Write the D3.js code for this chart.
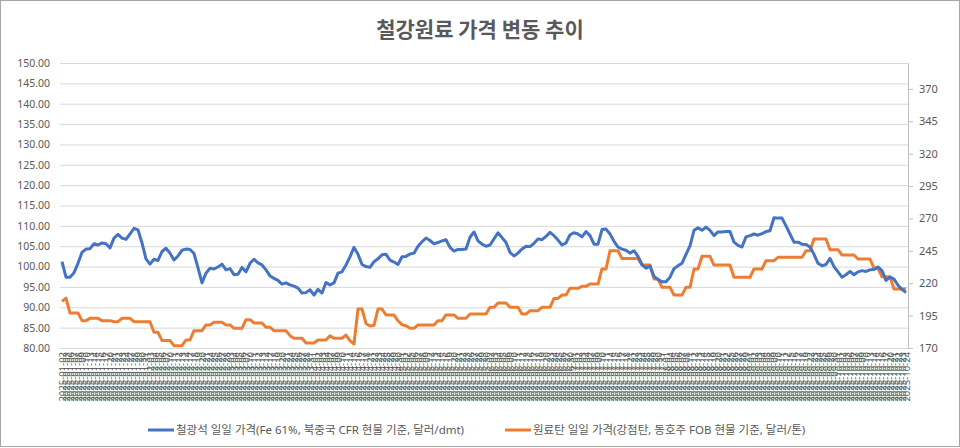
<!DOCTYPE html>
<html>
<head>
<meta charset="utf-8">
<script src="https://cdn.jsdelivr.net/npm/d3@7"></script>
<style>
  body { margin: 0; background: #fff; }
  svg { display: block; }
</style>
</head>
<body>
<div id="chart-area"></div>
<script>
// trading days shown on the category axis
const months = ["2025-01", "2025-02", "2025-03", "2025-04", "2025-05", "2025-06", "2025-07", "2025-08", "2025-09", "2025-10"];
const monthDays = [
  [2, 3, 6, 7, 8, 9, 10, 13, 14, 15, 16, 17, 20, 21, 22, 23, 24, 27, 28, 29, 30, 31],
  [3, 4, 5, 6, 7, 10, 11, 12, 13, 14, 17, 18, 19, 20, 21, 24, 25, 26, 27, 28],
  [3, 4, 5, 6, 7, 10, 11, 12, 13, 14, 17, 18, 19, 20, 21, 24, 25, 26, 27, 28, 31],
  [1, 2, 3, 4, 7, 8, 9, 10, 11, 14, 15, 16, 17, 18, 21, 22, 23, 24, 25, 28, 29, 30],
  [1, 2, 5, 6, 7, 8, 9, 12, 13, 14, 15, 16, 19, 20, 21, 22, 23, 26, 27, 28, 29, 30],
  [2, 3, 4, 5, 6, 9, 10, 11, 12, 13, 16, 17, 18, 19, 20, 23, 24, 25, 26, 27, 30],
  [1, 2, 3, 4, 7, 8, 9, 10, 11, 14, 15, 16, 17, 18, 21, 22, 23, 24, 25, 28, 29, 30, 31],
  [1, 4, 5, 6, 7, 8, 11, 12, 13, 14, 15, 18, 19, 20, 21, 22, 25, 26, 27, 28, 29],
  [1, 2, 3, 4, 5, 8, 9, 10, 11, 12, 15, 16, 17, 18, 19, 22, 23, 24, 25, 26, 29, 30],
  [1, 2, 3, 6, 7, 8, 9, 10, 13, 14, 15, 16, 17, 20, 21, 22, 23, 24]
];

// 철광석 (left axis)
const ironOre = [
  101.2, 97.4, 97.4, 98.5, 100.8, 103.5, 104.3, 104.4, 105.6, 105.3,
  105.8, 105.6, 104.6, 107.0, 107.9, 107.0, 106.7, 108.0, 109.4, 109.0,
  105.8, 101.9, 100.6, 101.8, 101.5, 103.7, 104.5, 103.3, 101.6, 102.6,
  104.0, 104.3, 104.2, 103.2, 99.7, 96.0, 98.4, 99.6, 99.4, 99.9,
  100.6, 99.2, 99.5, 98.0, 98.1, 99.8, 98.7, 100.8, 101.8, 100.9,
  100.4, 99.2, 97.7, 97.1, 96.6, 95.7, 96.0, 95.5, 95.2, 94.7,
  93.5, 93.6, 94.3, 93.0, 94.4, 93.5, 96.1, 95.5, 96.0, 98.4,
  98.7, 100.4, 102.4, 104.7, 103.0, 100.5, 100.0, 99.8, 101.2, 101.9,
  102.9, 103.0, 101.6, 101.1, 100.5, 102.4, 102.5, 103.1, 103.3, 105.0,
  106.1, 107.0, 106.4, 105.6, 105.9, 106.3, 106.6, 104.7, 103.8, 104.2,
  104.2, 104.3, 107.2, 108.5, 106.3, 105.5, 105.0, 105.3, 106.8, 108.3,
  107.1, 105.9, 103.5, 102.6, 103.3, 104.3, 105.0, 104.9, 105.7, 106.8,
  106.6, 107.4, 108.4, 107.6, 106.5, 105.3, 105.8, 107.8, 108.3, 108.0,
  107.3, 108.6, 107.6, 105.5, 105.5, 109.1, 109.2, 108.0, 106.2, 104.8,
  104.3, 104.0, 103.3, 103.9, 102.5, 100.5, 99.6, 100.1, 97.6, 96.8,
  96.3, 96.3, 97.4, 99.5, 100.2, 100.8, 103.0, 105.1, 108.9, 109.5,
  108.9, 109.7, 108.9, 107.6, 108.5, 108.5, 108.6, 108.6, 106.0, 105.2,
  104.8, 107.3, 107.6, 108.0, 107.7, 108.1, 108.6, 108.8, 112.0, 111.9,
  111.9, 110.0, 108.0, 106.0, 106.0, 105.5, 105.4, 104.8, 103.0, 100.8,
  100.2, 100.5, 102.0, 100.0, 98.7, 97.4, 98.0, 98.8, 98.0, 98.7,
  99.0, 98.8, 99.2, 99.3, 99.9, 99.0, 96.6, 97.4, 96.9, 95.4,
  94.4, 93.6
];

// 원료탄 (right axis)
const cokingCoal = [
  206, 208.5, 197, 197, 197, 191.1, 191.1, 192.9, 192.9, 192.9,
  191.1, 191.1, 191.1, 190.3, 190.3, 192.9, 192.9, 192.9, 190.3, 190.3,
  190.3, 190.3, 190.3, 182.1, 182.1, 175.7, 175.7, 175.7, 171.8, 171.8,
  171.8, 176.2, 176.2, 183.4, 183.4, 183.4, 187.8, 187.8, 189.8, 189.8,
  189.8, 187.8, 187.8, 185.2, 185.2, 185.2, 191.9, 191.9, 189.3, 189.3,
  189.3, 186, 186, 183.4, 183.4, 183.4, 183.4, 179.5, 177.5, 177.5,
  177.5, 173.9, 173.9, 173.9, 176.2, 176.2, 176.2, 179.5, 177.5, 177.5,
  177.5, 180, 175.7, 173.1, 200.1, 200.1, 189, 187, 187.5, 200.1,
  200.1, 195.5, 195.5, 195.5, 191, 188, 187.2, 185.2, 185.2, 187.8,
  187.8, 187.8, 187.8, 187.8, 191.1, 191.1, 195.5, 195.5, 195.5, 192.9,
  192.9, 192.9, 196.2, 196.2, 196.2, 196.2, 196.2, 201.4, 201.4, 204.7,
  204.7, 204.7, 201.4, 201.4, 201.4, 196.2, 196.2, 198.8, 198.8, 198.8,
  201.4, 201.4, 201.4, 208.3, 208.3, 210.9, 210.9, 216.1, 216.1, 216.1,
  217.6, 217.6, 219.4, 219.4, 219.4, 231, 231, 245.1, 245.1, 245.1,
  239, 239, 239, 239, 239, 234, 234, 234, 223.3, 223.3,
  216.8, 216.8, 216.8, 210.9, 210.9, 210.9, 216.8, 216.8, 231, 231,
  240.8, 240.8, 240.8, 234, 234, 234, 234, 234, 224.6, 224.6,
  224.6, 224.6, 224.6, 231, 231, 231, 237.4, 237.4, 237.4, 240,
  240, 240, 240, 240, 240, 240, 245.1, 245.1, 254.1, 254.1,
  254.1, 254.1, 245.9, 245.9, 245.9, 241.8, 241.8, 241.8, 241.8, 238.7,
  238.7, 238.7, 238.7, 231.5, 231.5, 225, 225, 225, 215.5, 215.5,
  215.5, 215.5
];

const leftTicks = [80, 85, 90, 95, 100, 105, 110, 115, 120, 125, 130, 135, 140, 145, 150];
const rightTicks = [170, 195, 220, 245, 270, 295, 320, 345, 370];

const seriesNames = [
  "철광석 일일 가격(Fe 61%, 북중국 CFR 현물 기준, 달러/dmt)",
  "원료탄 일일 가격(강점탄, 동호주 FOB 현물 기준, 달러/톤)"
];
const colors = ["#4472C4", "#ED7D31"];

const W = 960, H = 448;
const plot = { left: 60, right: 908, top: 63, bottom: 348 };
const textColor = "#595959";
const font = "'Noto Sans', 'Noto Sans CJK KR', sans-serif";

const dates = months.flatMap((m, i) => monthDays[i].map(d => `${m}-${String(d).padStart(2, "0")}`));

const svg = d3.select("#chart-area")
  .append("svg")
  .attr("width", W)
  .attr("height", H)
  .style("font-family", font);

svg.append("rect")
  .attr("x", 0.5).attr("y", 0.5)
  .attr("width", W - 1).attr("height", H - 2)
  .attr("fill", "#fff")
  .attr("stroke", "#a6a6a6");

svg.append("text")
  .attr("x", 480)
  .attr("y", 37)
  .attr("text-anchor", "middle")
  .attr("font-family", "'Noto Sans CJK KR', sans-serif")
  .attr("font-size", "21px")
  .attr("font-weight", "bold")
  .attr("fill", textColor)
  .text("철강원료 가격 변동 추이");

const x = d3.scalePoint()
  .domain(dates)
  .range([plot.left, plot.right])
  .padding(0.5);

const yL = d3.scaleLinear().domain([80, 150]).range([plot.bottom, plot.top]);
const yR = d3.scaleLinear().domain([170, 390]).range([plot.bottom, plot.top]);

// gridlines
svg.append("g")
  .attr("transform", `translate(${plot.left},0)`)
  .call(d3.axisLeft(yL).tickValues(leftTicks).tickSize(-(plot.right - plot.left)).tickFormat(""))
  .call(g => g.select(".domain").remove())
  .call(g => g.selectAll("line").attr("stroke", "#d9d9d9"));

// left axis labels
svg.append("g")
  .attr("transform", `translate(${plot.left},0)`)
  .call(d3.axisLeft(yL).tickValues(leftTicks).tickSize(0).tickPadding(10).tickFormat(d3.format(".2f")))
  .call(g => g.select(".domain").remove())
  .call(g => g.selectAll("text").attr("fill", textColor).attr("font-size", "10.5px").attr("font-family", font));

// right axis
svg.append("g")
  .attr("transform", `translate(${plot.right},0)`)
  .call(d3.axisRight(yR).tickValues(rightTicks).tickSize(5).tickSizeOuter(0).tickPadding(6))
  .call(g => g.select(".domain").attr("stroke", "#bfbfbf"))
  .call(g => g.selectAll("line").attr("stroke", "#bfbfbf"))
  .call(g => g.selectAll("text").attr("fill", textColor).attr("font-size", "11px").attr("font-family", font));

// category axis
svg.append("g")
  .attr("transform", `translate(0,${plot.bottom})`)
  .call(d3.axisBottom(x).tickSize(0).tickSizeOuter(0))
  .call(g => g.select(".domain").attr("stroke", "#d9d9d9"))
  .call(g => g.selectAll("text")
    .attr("fill", textColor)
    .attr("font-size", "9.5px")
    .attr("font-family", font)
    .attr("text-anchor", "end")
    .attr("transform", "rotate(-90)")
    .attr("x", -4)
    .attr("y", 0)
    .attr("dy", "0.35em"));

const lineL = d3.line()
  .x((d, i) => x(dates[i]))
  .y(d => yL(d));

const lineR = d3.line()
  .x((d, i) => x(dates[i]))
  .y(d => yR(d));

svg.append("path")
  .datum(cokingCoal)
  .attr("fill", "none")
  .attr("stroke", colors[1])
  .attr("stroke-width", 3)
  .attr("stroke-linejoin", "round")
  .attr("d", lineR);

svg.append("path")
  .datum(ironOre)
  .attr("fill", "none")
  .attr("stroke", colors[0])
  .attr("stroke-width", 3)
  .attr("stroke-linejoin", "round")
  .attr("d", lineL);

// legend
const legendX = [148, 505];
const legend = svg.append("g");
seriesNames.forEach((name, i) => {
  legend.append("line")
    .attr("x1", legendX[i]).attr("x2", legendX[i] + 26)
    .attr("y1", 430).attr("y2", 430)
    .attr("stroke", colors[i])
    .attr("stroke-width", 3);
  legend.append("text")
    .attr("x", legendX[i] + 28)
    .attr("y", 430)
    .attr("dy", "0.35em")
    .attr("font-size", "11.5px")
    .attr("fill", textColor)
    .text(name);
});
</script>
</body>
</html>
